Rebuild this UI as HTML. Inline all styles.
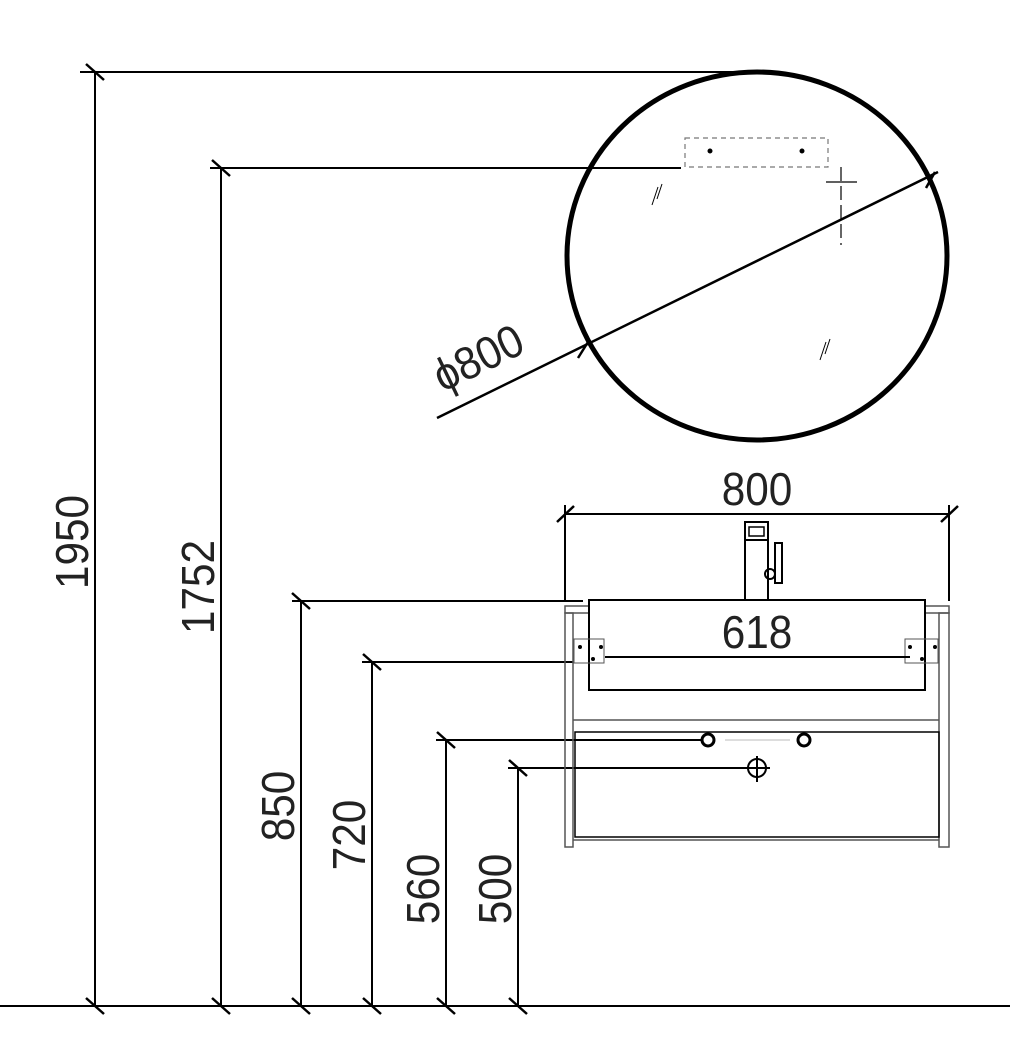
<!DOCTYPE html>
<html><head><style>html,body{margin:0;padding:0;background:#fff}svg{display:block}</style></head><body>
<svg width="1010" height="1051" viewBox="0 0 1010 1051" xmlns="http://www.w3.org/2000/svg">
<g stroke="#000" fill="none" stroke-width="2">
<line x1="0" y1="1006" x2="1010" y2="1006"/>
<line x1="95" y1="72" x2="95" y2="1006"/>
<line x1="80" y1="72" x2="766" y2="72"/>
<line x1="221" y1="168" x2="221" y2="1006"/>
<line x1="210" y1="168" x2="681" y2="168"/>
<line x1="301" y1="601" x2="301" y2="1006"/>
<line x1="292" y1="601" x2="583" y2="601"/>
<line x1="372" y1="662" x2="372" y2="1006"/>
<line x1="362" y1="662" x2="573" y2="662"/>
<line x1="446" y1="740" x2="446" y2="1006"/>
<line x1="436" y1="740" x2="702" y2="740"/>
<line x1="518" y1="768" x2="518" y2="1006"/>
<line x1="508" y1="768" x2="748" y2="768"/>
<g stroke-width="2.5">
<line x1="86" y1="64" x2="104" y2="80"/>
<line x1="212" y1="160" x2="230" y2="176"/>
<line x1="292" y1="593" x2="310" y2="609"/>
<line x1="363" y1="654" x2="381" y2="670"/>
<line x1="437" y1="732" x2="455" y2="748"/>
<line x1="509" y1="760" x2="527" y2="776"/>
<line x1="86" y1="998" x2="104" y2="1014"/>
<line x1="212" y1="998" x2="230" y2="1014"/>
<line x1="292" y1="998" x2="310" y2="1014"/>
<line x1="363" y1="998" x2="381" y2="1014"/>
<line x1="437" y1="998" x2="455" y2="1014"/>
<line x1="509" y1="998" x2="527" y2="1014"/>
<line x1="557" y1="522" x2="574" y2="506"/>
<line x1="941" y1="522" x2="958" y2="506"/>
<line x1="601" y1="664" x2="613" y2="650"/>
<line x1="900" y1="664" x2="912" y2="650"/>
<line x1="578" y1="358" x2="588" y2="342"/>
<line x1="926" y1="188" x2="935" y2="172"/>
</g>
<ellipse cx="757" cy="256" rx="190" ry="184" stroke-width="5"/>
<line x1="437" y1="418" x2="938" y2="172" stroke-width="2.5"/>
<rect x="685" y="138" width="143" height="29" stroke="#777" stroke-width="1.2" stroke-dasharray="5,4"/>
<circle cx="710" cy="151" r="1.5" fill="#000"/>
<circle cx="802" cy="151" r="1.5" fill="#000"/>
<line x1="841" y1="167" x2="841" y2="245" stroke-width="1.2" stroke-dasharray="14,5"/>
<line x1="826" y1="182" x2="857" y2="182" stroke-width="1.2"/>
<g stroke-width="1"><line x1="652" y1="205" x2="658" y2="187"/><line x1="657" y1="199" x2="662" y2="184"/>
<line x1="820" y1="360" x2="826" y2="342"/><line x1="825" y1="354" x2="830" y2="339"/></g>
<line x1="565" y1="514" x2="949" y2="514"/>
<line x1="565" y1="505" x2="565" y2="600"/>
<line x1="949" y1="505" x2="949" y2="601"/>
<rect x="565" y="606" width="384" height="7" stroke="#555" stroke-width="1.5"/>
<rect x="565" y="613" width="8" height="234" stroke="#555" stroke-width="1.5"/>
<rect x="939" y="613" width="10" height="234" stroke="#555" stroke-width="1.5"/>
<line x1="573" y1="720" x2="939" y2="720" stroke="#555" stroke-width="1.5"/>
<rect x="575" y="732" width="364" height="105" stroke-width="1.5"/>
<line x1="573" y1="840" x2="939" y2="840" stroke="#555" stroke-width="1.5"/>
<rect x="589" y="600" width="336" height="90" fill="#fff" stroke-width="2"/>
<rect x="574" y="639" width="30" height="24" stroke="#555" stroke-width="1"/>
<rect x="905" y="639" width="33" height="24" stroke="#555" stroke-width="1"/>
<line x1="605" y1="657" x2="910" y2="657"/>
<g fill="#000" stroke="none"><circle cx="580" cy="647" r="2"/><circle cx="601" cy="647" r="2"/><circle cx="593" cy="659" r="2"/><circle cx="935" cy="647" r="2"/><circle cx="910" cy="647" r="2"/><circle cx="922" cy="659" r="2"/></g>
<rect x="745" y="522" width="23" height="78" fill="#fff" stroke-width="2"/>
<rect x="749" y="527" width="15" height="9" stroke-width="1.5"/>
<line x1="745" y1="540" x2="768" y2="540"/>
<rect x="775" y="543" width="7" height="40" stroke-width="2"/>
<circle cx="770" cy="574" r="5" stroke-width="2"/>
<circle cx="708" cy="740" r="6" stroke-width="3"/>
<circle cx="804" cy="740" r="6" stroke-width="3"/>
<line x1="725" y1="740" x2="790" y2="740" stroke="#bbb" stroke-width="1"/>
<circle cx="757" cy="768" r="9" stroke-width="2"/>
<line x1="757" y1="756" x2="757" y2="782"/>
<line x1="746" y1="768" x2="770" y2="768"/>
</g>
<g font-family="Liberation Sans, sans-serif" font-size="46" fill="#222" text-anchor="middle">
<text transform="translate(88,542) rotate(-90) scale(0.92,1)">1950</text>
<text transform="translate(214,587) rotate(-90) scale(0.92,1)">1752</text>
<text transform="translate(294,806) rotate(-90) scale(0.92,1)">850</text>
<text transform="translate(365,835) rotate(-90) scale(0.92,1)">720</text>
<text transform="translate(439,889) rotate(-90) scale(0.92,1)">560</text>
<text transform="translate(511,889) rotate(-90) scale(0.92,1)">500</text>
<text transform="translate(757,505) scale(0.92,1)">800</text>
<text transform="translate(757,648) scale(0.92,1)">618</text>
<text transform="translate(485,372) rotate(-26) scale(0.92,1)">ϕ800</text>
</g>
</svg>
</body></html>
